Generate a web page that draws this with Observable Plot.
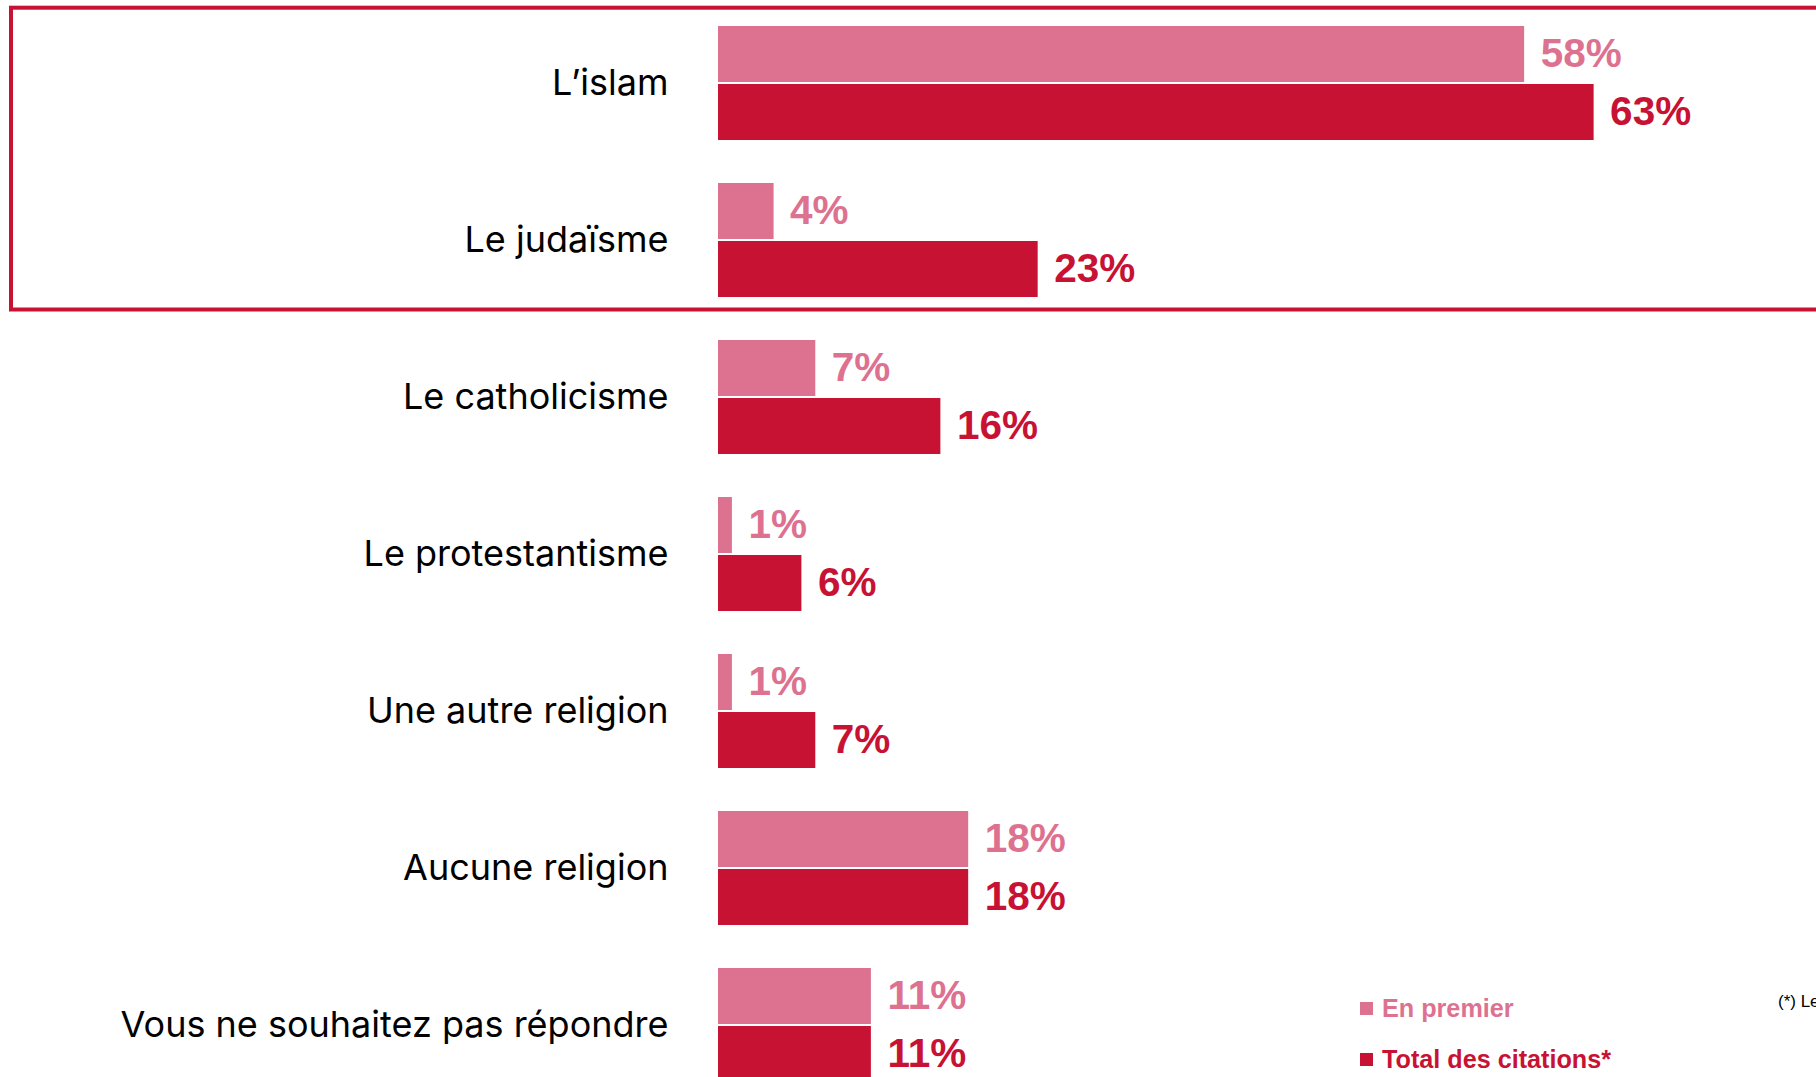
<!DOCTYPE html>
<html><head><meta charset="utf-8">
<script src="https://cdn.jsdelivr.net/npm/d3@7"></script>
<script src="https://cdn.jsdelivr.net/npm/@observablehq/plot@0.6"></script>
<style>
html,body{margin:0;padding:0;background:#fff;overflow:hidden;}
#wrap{position:relative;width:1816px;height:1077px;overflow:hidden;}
#wrap svg{overflow:hidden;}
</style></head><body><div id="wrap"></div>
<script>
const categories = ["L’islam","Le judaïsme","Le catholicisme","Le protestantisme","Une autre religion","Aucune religion","Vous ne souhaitez pas répondre"];
const enPremier = [58,4,7,1,1,18,11];
const totalCitations = [63,23,16,6,7,18,11];
const seriesNames = ["En premier","Total des citations*"];
const highlighted = ["L’islam","Le judaïsme"];
const footnote = "(*) Le total des citations est supérieur à 100, les interviewés ayant pu donner plusieurs réponses";

const pink = "#DD7290", red = "#C81234";
const rows = categories.map((c,i)=>({category:c, premier:enPremier[i], total:totalCitations[i]}));

const step = 157.2, bw = 114, pi = 1 - bw/step, top0 = 4.1;
const valueFont = {fontSize:40.5, fontWeight:"bold", fontFamily:"'Liberation Sans', Arial, sans-serif", textAnchor:"start", dx:16};

const chart = Plot.plot({
  width:1816, height:1077,
  marginLeft:718, marginRight:0, marginTop:0, marginBottom:0,
  x:{domain:[0,79], axis:null},
  y:{domain:categories, range:[top0, top0 + 7*step], paddingInner:pi, paddingOuter:pi/2, axis:null},
  marks:[
    Plot.barX(rows, {x:"premier", y:"category", fill:pink, insetBottom:58}),
    Plot.barX(rows, {x:"total", y:"category", fill:red, insetTop:58}),
    Plot.text(rows, {x:"premier", y:"category", text:d=>d.premier+"%", fill:pink, dy:-29, ...valueFont}),
    Plot.text(rows, {x:"total", y:"category", text:d=>d.total+"%", fill:red, dy:29, ...valueFont}),
    Plot.axisY({tickSize:0, tickPadding:50, fontSize:36, fontFamily:"Inter, 'Noto Sans', sans-serif", fill:"#000", label:null})
  ]
});
document.getElementById("wrap").appendChild(chart);

const svg = d3.select(chart);
const ys = chart.scale("y");
const boxTop = ys.apply(highlighted[0]) - 18.3;
const boxBottom = ys.apply(highlighted[highlighted.length-1]) + ys.bandwidth + 12.5;
svg.append("rect")
  .attr("x", 11).attr("y", boxTop)
  .attr("width", 1900).attr("height", boxBottom - boxTop)
  .attr("fill", "none").attr("stroke", red).attr("stroke-width", 4);

const legendColors = [pink, red];
const lg = svg.append("g").attr("font-family","'Liberation Sans', Arial, sans-serif").attr("font-weight","bold").attr("font-size",25.2).attr("text-anchor","start");
seriesNames.forEach((name,i)=>{
  const base = 1017 + i*51;
  lg.append("rect").attr("x",1360).attr("y",base-15).attr("width",13).attr("height",13).attr("fill",legendColors[i]);
  lg.append("text").attr("x",1382).attr("y",base).attr("text-anchor","start").attr("fill",legendColors[i]).text(name);
});
svg.append("text").attr("x",1778).attr("y",1007).attr("text-anchor","start")
  .attr("font-family","'Liberation Sans', Arial, sans-serif").attr("font-size",17).attr("fill","#000")
  .text(footnote);
</script>
</body></html>
